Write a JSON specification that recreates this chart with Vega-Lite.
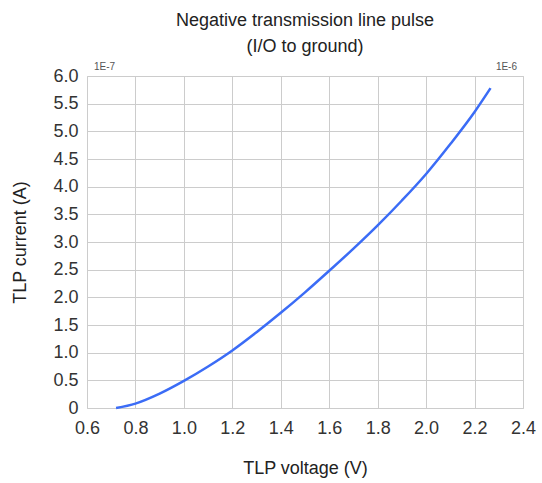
{
  "$schema": "https://vega.github.io/schema/vega-lite/v6.json",
  "autosize": "none",
  "padding": {"left": 87, "top": 76, "right": 19, "bottom": 75},
  "width": 436,
  "height": 332,
  "background": "white",
  "config": {
    "font": "Liberation Sans",
    "view": {"stroke": "#cccccc", "strokeWidth": 1}
  },
  "title": {
    "text": ["Negative transmission line pulse", "(I/O to ground)"],
    "anchor": "middle",
    "fontSize": 18,
    "fontWeight": "normal",
    "color": "#222222",
    "lineHeight": 26,
    "offset": 6
  },
  "datasets": {
    "curve": [
      {"v": 0.72, "i": 0},
      {"v": 0.8, "i": 0.08},
      {"v": 0.9, "i": 0.26},
      {"v": 1.0, "i": 0.49},
      {"v": 1.1, "i": 0.75},
      {"v": 1.2, "i": 1.04},
      {"v": 1.3, "i": 1.37},
      {"v": 1.4, "i": 1.72},
      {"v": 1.5, "i": 2.09},
      {"v": 1.6, "i": 2.48},
      {"v": 1.7, "i": 2.88},
      {"v": 1.8, "i": 3.3},
      {"v": 1.9, "i": 3.75},
      {"v": 2.0, "i": 4.23},
      {"v": 2.1, "i": 4.77},
      {"v": 2.2, "i": 5.35},
      {"v": 2.266, "i": 5.78}
    ],
    "labels": [
      {"v": 0.6, "i": 6, "t": "1E-7", "pos": "left"},
      {"v": 2.4, "i": 6, "t": "1E-6", "pos": "right"}
    ]
  },
  "encoding": {
    "x": {
      "field": "v", "type": "quantitative",
      "scale": {"domain": [0.6, 2.4], "nice": false, "zero": false},
      "axis": {
        "title": "TLP voltage (V)",
        "values": [0.6, 0.8, 1.0, 1.2, 1.4, 1.6, 1.8, 2.0, 2.2, 2.4],
        "format": ".1f",
        "grid": true, "gridColor": "#cccccc", "gridOpacity": 1,
        "domain": false, "ticks": false,
        "labelFontSize": 18, "labelColor": "#333333", "labelPadding": 11,
        "labelOverlap": false, "labelFlush": false, "labelBound": false,
        "titleFontSize": 18, "titleFontWeight": "normal", "titleColor": "#222222", "titlePadding": 22
      }
    },
    "y": {
      "field": "i", "type": "quantitative",
      "scale": {"domain": [0, 6], "nice": false},
      "axis": {
        "title": "TLP current (A)",
        "values": [0, 0.5, 1, 1.5, 2, 2.5, 3, 3.5, 4, 4.5, 5, 5.5, 6],
        "labelExpr": "datum.value == 0 ? '0' : format(datum.value, '.1f')",
        "grid": true, "gridColor": "#cccccc", "gridOpacity": 1,
        "domain": false, "ticks": false,
        "labelFontSize": 18, "labelColor": "#333333", "labelPadding": 9,
        "labelOverlap": false, "labelFlush": false, "labelBound": false,
        "titleFontSize": 18, "titleFontWeight": "normal", "titleColor": "#222222", "titlePadding": 23
      }
    }
  },
  "layer": [
    {
      "data": {"name": "curve"},
      "mark": {"type": "line", "color": "#3b6cf6", "strokeWidth": 2.5, "interpolate": "monotone"}
    },
    {
      "data": {"name": "labels"},
      "transform": [{"filter": "datum.pos == 'left'"}],
      "mark": {"type": "text", "align": "left", "baseline": "bottom", "dx": 7, "dy": -4, "fontSize": 10, "color": "#555555"},
      "encoding": {"text": {"field": "t"}}
    },
    {
      "data": {"name": "labels"},
      "transform": [{"filter": "datum.pos == 'right'"}],
      "mark": {"type": "text", "align": "right", "baseline": "bottom", "dx": -6, "dy": -4, "fontSize": 10, "color": "#555555"},
      "encoding": {"text": {"field": "t"}}
    }
  ]
}
